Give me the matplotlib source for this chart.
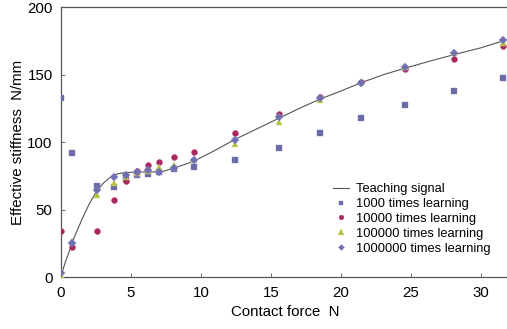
#!/usr/bin/env python3
"""Effective stiffness vs contact force for several learning counts."""

import matplotlib

matplotlib.use("Agg")

import matplotlib.pyplot as plt

plt.rcParams["font.family"] = ["Liberation Sans", "DejaVu Sans"]

# Teaching signal
teach_x = [0, 0.15, 0.3, 0.76, 1.0, 1.5, 2.0, 2.5, 3.0, 3.5, 4.0, 4.5, 5.5, 6.5,
           7.3, 8.1, 9.5, 11, 12.4, 14, 15.6, 17, 18.5, 20, 21.4, 23, 24.6,
           26.3, 28.1, 30, 32]
teach_y = [2, 6, 11, 24, 31, 43, 54, 63, 69.5, 74, 76.5, 77.5, 78, 78,
           78.5, 81, 86, 94, 102, 110, 118, 125, 132, 138, 144, 150, 155,
           160, 165, 170, 176.5]

force = [0, 0.76, 2.54, 3.77, 4.67, 5.43, 6.2, 7.0, 8.06, 9.47,
         12.4, 15.6, 18.5, 21.4, 24.6, 28.1, 31.6]
learn_1e3 = [133, 92, 68, 67, 73, 76, 76.5, 78, 80, 82,
             87, 96, 107, 118, 128, 138, 148]
learn_1e4 = [34, 22.5, 34, 57, 71.5, 79, 83.5, 85.7, 89, 93,
             107, 121, 133.5, 144.6, 154, 162, 171]
learn_1e5 = [2, 27, 61, 69.6, 74, 77.5, 79, 81.5, 83, 87,
             99, 115, 131, 145, 156, 166, 173.6]
learn_1e6 = [3, 25.5, 65, 74.5, 76, 78, 79.5, 78, 81, 87,
             102, 118.6, 133, 144, 155.5, 166, 176]

W, H = 507, 329
fig = plt.figure(figsize=(W / 100, H / 100), dpi=100, facecolor="white")
x0, y0, y_top = 61.0, 277.3, 7.3
ax = fig.add_axes([x0 / W, (H - y0) / H, 32 * 14.0 / W, (y0 - y_top) / H])

ax.plot(teach_x, teach_y, color="#555555", lw=0.8, label="Teaching signal", zorder=2)
ax.plot(force, learn_1e3, ls="none", marker="s", ms=4.3, color="#6a6aa8",
        mec="#8080b8", mew=0.3, label="1000 times learning", zorder=3)
ax.plot(force, learn_1e4, ls="none", marker="o", ms=4.3, color="#a8285f",
        mec="#b8406f", mew=0.3, label="10000 times learning", zorder=3)
ax.plot(force, learn_1e5, ls="none", marker="^", ms=5, color="#b3bf3c",
        mec="#c8d060", mew=0.3, label="100000 times learning", zorder=3)
ax.plot(force, learn_1e6, ls="none", marker="D", ms=3.8, color="#7070b0",
        mec="#8888c0", mew=0.3, label="1000000 times learning", zorder=4)

ax.set_xlim(0, 32)
ax.set_ylim(0, 200)
ax.set_xticks([0, 5, 10, 15, 20, 25, 30])
ax.set_yticks([0, 50, 100, 150, 200])
ax.tick_params(direction="in", length=3, width=0.6, color="#555555",
               labelsize=10.8, pad=6)
for side in ("top", "bottom", "left", "right"):
    ax.spines[side].set_color("#555555")
    ax.spines[side].set_linewidth(0.9)

ax.set_xlabel("Contact force  N", fontsize=10.8, labelpad=4)
ax.set_ylabel("Effective stiffness  N/mm", fontsize=10.8, labelpad=2)

ax.legend(loc="lower right", bbox_to_anchor=(0.98, 0.05), frameon=False,
          fontsize=9.3, handlelength=1.2, handletextpad=0.6, labelspacing=0.22,
          markerscale=0.8, borderpad=0.2)

fig.savefig("out.png", dpi=100, facecolor="white")
